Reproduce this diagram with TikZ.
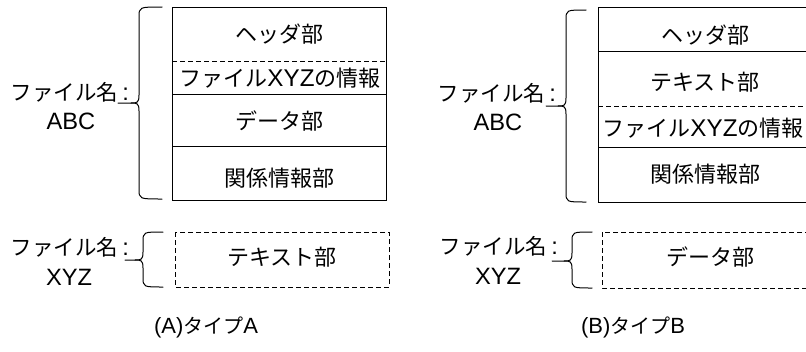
\documentclass[tikz,border=0pt]{standalone}
\usepackage{fontspec}
\setmainfont{Noto Sans CJK JP}
\newfontfamily\lat[Scale=1.1]{Liberation Sans}
\newcommand{\bracepath}[5]{% right x, vertical x, tip x, top y, mid y
  \draw[brc] (#1,#4) .. controls (#2,#4) .. (#2,#4+10) -- (#2,#5-8)
    .. controls (#2,#5) and (#2-2,#5) .. (#2-8,#5) -- (#3,#5);
}
\newcommand{\bracelow}[4]{% right x, vertical x, mid y, bottom y
  \draw[brc] (#2-8,#3) .. controls (#2-2,#3) and (#2,#3) .. (#2,#3+8) -- (#2,#4-10)
    .. controls (#2,#4) .. (#1,#4);
}
\begin{document}
\begin{tikzpicture}[x=1pt,y=-1pt,line width=1pt,
  txt/.style={font=\fontsize{22}{24}\selectfont,inner sep=0pt,anchor=center},
  lbl/.style={font=\fontsize{21.5}{24}\selectfont,inner sep=0pt,anchor=center},
  captxt/.style={font=\fontsize{20}{24}\selectfont,inner sep=0pt,anchor=center},
  brc/.style={line width=1pt,line join=round,line cap=round},
  dsh/.style={dash pattern=on 5pt off 3pt}]
\useasboundingbox (0,0) rectangle (806,351);
\clip (0,0) rectangle (806,351);

% ---------- Panel A ----------
\draw (172,7) rectangle (386,200);
\draw[dsh] (172,61) -- (386,61);
\draw (172,94) -- (386,94);
\draw (172,146) -- (386,146);
\node[txt] (a1) at (279,34) {ヘッダ部};
\node[txt] (a2) at (280,78) {ファイル{\lat XYZ}の情報};
\node[txt] (a3) at (279,121) {データ部};
\node[txt] (a4) at (279,178) {関係情報部};

\bracepath{162}{139}{118}{7}{103}
\bracelow{162}{139}{103}{199}
\node[lbl] (aname) at (70,92) {ファイル名{\lat\,:}};
\node[lbl] (aabc) at (71,121) {\lat ABC};

\draw[dsh] (175,232) rectangle (389,287);
\node[txt] (at) at (282,257) {テキスト部};
\bracepath{163}{143}{125}{232}{260}
\bracelow{163}{143}{260}{287}
\node[lbl] (bname) at (70,247) {ファイル名{\lat\,:}};
\node[lbl] (bxyz) at (69,277) {\lat XYZ};
\node[captxt] (capa) at (206,327) {{\lat(A)}タイプ{\lat A}};

% ---------- Panel B ----------
\draw (598,7) rectangle (830,202);
\draw (598,51) -- (830,51);
\draw[dsh] (598,106) -- (830,106);
\draw (598,147) -- (830,147);
\node[txt] (b1) at (705,35) {ヘッダ部};
\node[txt] (b2) at (705,82) {テキスト部};
\node[txt] (b3) at (703,128) {ファイル{\lat XYZ}の情報};
\node[txt] (b4) at (705,174) {関係情報部};

\bracepath{586}{566}{546}{10}{106}
\bracelow{586}{566}{106}{202}
\node[lbl] (cname) at (497,93) {ファイル名{\lat\,:}};
\node[lbl] (cabc) at (498,122) {\lat ABC};

\draw[dsh] (602,232) rectangle (830,288);
\node[txt] (bd) at (710,257) {データ部};
\bracepath{592}{572}{552}{232}{261}
\bracelow{592}{572}{261}{288}
\node[lbl] (dname) at (499,246) {ファイル名{\lat\,:}};
\node[lbl] (dxyz) at (498,276) {\lat XYZ};
\node[captxt] (capb) at (633,327) {{\lat(B)}タイプ{\lat B}};
\end{tikzpicture}
\end{document}
